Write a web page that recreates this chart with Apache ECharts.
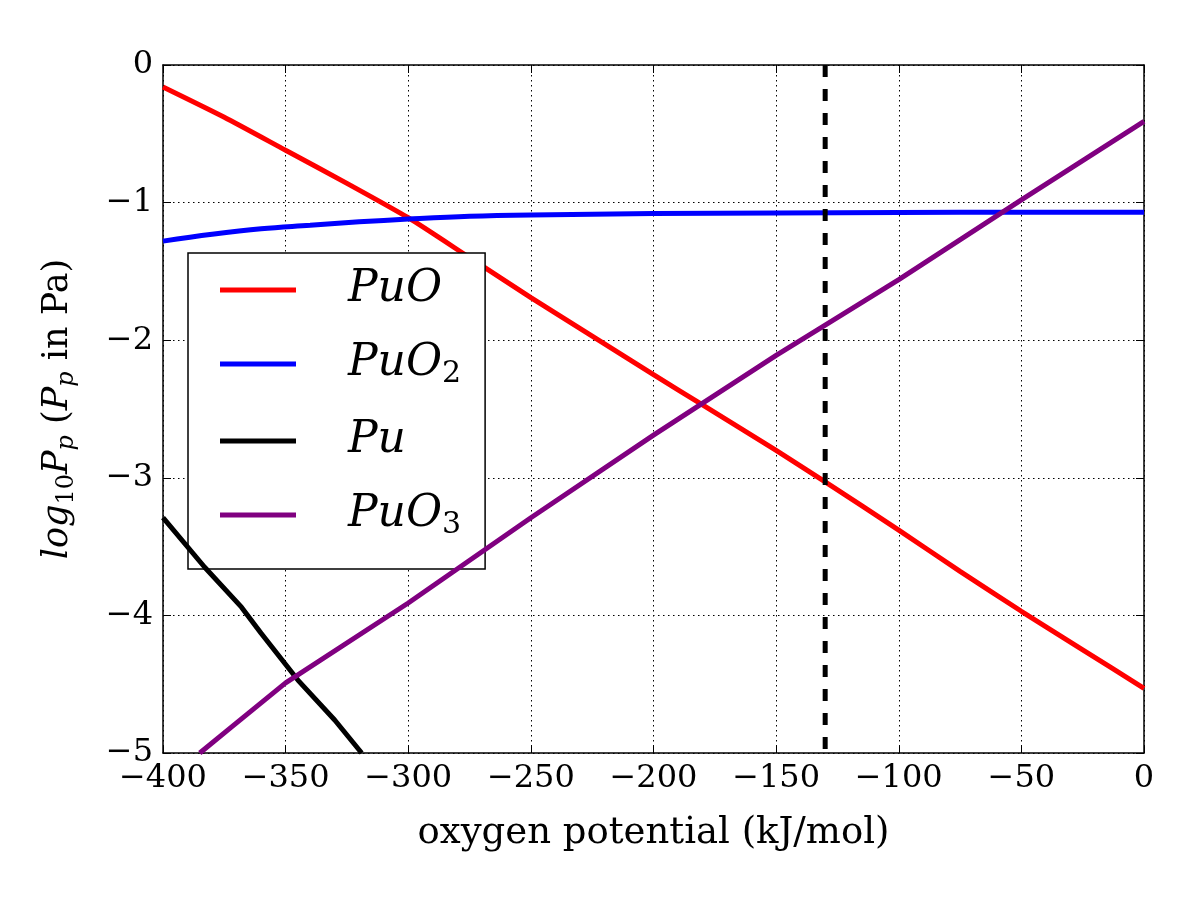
<!DOCTYPE html>
<html><head><meta charset="utf-8">
<script src="https://cdn.jsdelivr.net/npm/echarts@6/dist/echarts.min.js"></script>
<style>html,body{margin:0;padding:0;background:#fff}#c{width:1200px;height:900px}</style>
</head><body><div id="c"></div>
<script>
// ---- data ----
const xTicks = [-400, -350, -300, -250, -200, -150, -100, -50, 0];
const yTicks = [-5, -4, -3, -2, -1, 0];

const puoX = [-400, -375, -350, -325, -300, -275, -250, -225, -200, -180, -150, -130, -100, -75, -50, -25, 0];
const puoY = [-0.16, -0.38, -0.62, -0.86, -1.11, -1.40, -1.69, -1.97, -2.25, -2.47, -2.80, -3.03, -3.38, -3.68, -3.97, -4.25, -4.53];

const puo2X = [-400, -380, -360, -340, -320, -300, -275, -250, -200, -150, -100, -50, 0];
const puo2Y = [-1.28, -1.23, -1.19, -1.165, -1.14, -1.12, -1.10, -1.09, -1.08, -1.075, -1.072, -1.07, -1.07];

const puX = [-400, -383, -368, -360, -345, -330, -319];
const puY = [-3.29, -3.65, -3.94, -4.13, -4.47, -4.76, -5.00];

const puo3X = [-385, -372, -350, -300, -250, -200, -150, -130, -100, -50, 0];
const puo3Y = [-5.00, -4.81, -4.49, -3.91, -3.29, -2.69, -2.11, -1.89, -1.56, -0.98, -0.41];

const refX = -130;          // dashed vertical reference line
const yMin = -5, yMax = 0;

const names = ['PuO', 'PuO2', 'Pu', 'PuO3'];
const colors = ['#ff0000', '#0000ff', '#000000', '#800080'];
const smoothing = [0.2, 0.4, false, false];

// ---- build ----
const zip = (xs, ys) => xs.map((x, i) => [x, ys[i]]);
const fmt = v => (v < 0 ? '\u2212' + Math.abs(v) : String(v));
const FONT = 'DejaVu Serif';

const legendLabel = {
  PuO: '{g|}{a|PuO}',
  PuO2: '{g|}{a|PuO}{b|2}',
  Pu: '{g|}{a|Pu}',
  PuO3: '{g|}{a|PuO}{b|3}'
};

const chart = echarts.init(document.getElementById('c'), null, {renderer: 'canvas'});
const axisCommon = {
  axisLine: {show: true, onZero: false, lineStyle: {color: '#000', width: 1.5}},
  axisTick: {show: true, inside: true, length: 8, lineStyle: {color: '#000', width: 1}}
};

const option = {
  backgroundColor: '#fff',
  animation: false,
  grid: {left: 163, right: 56, top: 65, bottom: 147, containLabel: false},
  legend: {
    data: names,
    orient: 'vertical',
    left: 188, top: 253,
    icon: 'rect',
    itemWidth: 76, itemHeight: 5,
    itemGap: 30,
    padding: [15, 24, 29, 32],
    backgroundColor: '#fff',
    borderColor: '#000', borderWidth: 1.5, borderRadius: 0,
    formatter: n => legendLabel[n],
    textStyle: {
      rich: {
        g: {width: 47, height: 50},
        a: {fontFamily: FONT, fontStyle: 'italic', fontSize: 44, color: '#000', lineHeight: 50},
        b: {fontFamily: FONT, fontSize: 30, color: '#000', lineHeight: 30, verticalAlign: 'bottom'}
      }
    }
  },
  xAxis: [{
    type: 'value', min: xTicks[0], max: xTicks[xTicks.length - 1], interval: 50,
    position: 'bottom',
    ...axisCommon,
    axisLabel: {formatter: fmt, fontFamily: FONT, fontSize: 32, color: '#000', margin: 10},
    splitLine: {show: true, lineStyle: {color: '#000', width: 1, type: [1.5, 3.5]}},
    name: 'oxygen potential (kJ/mol)',
    nameLocation: 'middle', nameGap: 62,
    nameTextStyle: {fontFamily: FONT, fontSize: 37, color: '#000'}
  }, {
    type: 'value', min: xTicks[0], max: xTicks[xTicks.length - 1], interval: 50,
    position: 'top',
    ...axisCommon,
    axisLabel: {show: false}, splitLine: {show: false}
  }],
  yAxis: [{
    type: 'value', min: yMin, max: yMax, interval: 1,
    position: 'left',
    ...axisCommon,
    axisLabel: {formatter: fmt, fontFamily: FONT, fontSize: 32, color: '#000', margin: 10},
    splitLine: {show: true, lineStyle: {color: '#000', width: 1, type: [1.5, 3.5]}},
    name: '{i|log}{s|10}{i|P}{t|p} ({i|P}{t|p} in Pa)',
    nameLocation: 'middle', nameGap: 84,
    nameTextStyle: {
      fontFamily: FONT, fontSize: 35, color: '#000',
      rich: {
        i: {fontFamily: FONT, fontStyle: 'italic', fontSize: 35, color: '#000', lineHeight: 42},
        s: {fontFamily: FONT, fontSize: 24, color: '#000', lineHeight: 24, verticalAlign: 'bottom'},
        t: {fontFamily: FONT, fontStyle: 'italic', fontSize: 24, color: '#000', lineHeight: 24, verticalAlign: 'bottom'}
      }
    }
  }, {
    type: 'value', min: yMin, max: yMax, interval: 1,
    position: 'right',
    ...axisCommon,
    axisLabel: {show: false}, splitLine: {show: false}
  }],
  series: [
    {name: 'PuO', data: zip(puoX, puoY)},
    {name: 'PuO2', data: zip(puo2X, puo2Y)},
    {name: 'Pu', data: zip(puX, puY)},
    {name: 'PuO3', data: zip(puo3X, puo3Y)}
  ].map((s, i) => ({
    ...s, type: 'line', showSymbol: false, symbol: 'none', smooth: smoothing[i], clip: true,
    color: colors[i], lineStyle: {color: colors[i], width: 5}, z: 3 + i
  })).concat([{
    name: 'ref', type: 'line', showSymbol: false, symbol: 'none',
    data: [[refX, yMax], [refX, yMin]],
    lineStyle: {color: '#000', width: 5, type: [12, 12]}, z: 10
  }])
};
chart.setOption(option);
</script></body></html>
